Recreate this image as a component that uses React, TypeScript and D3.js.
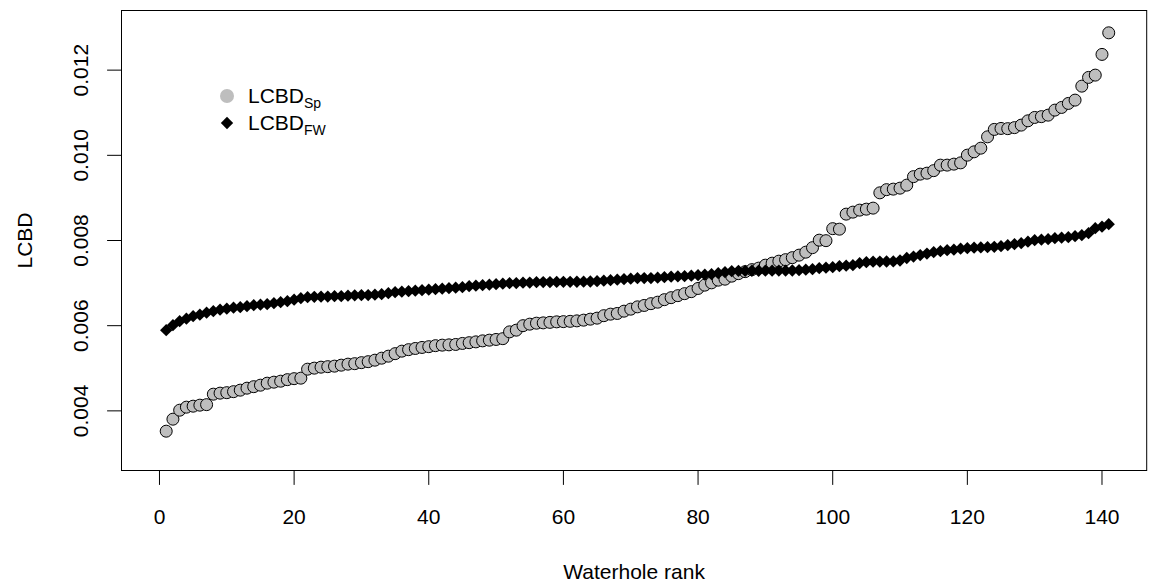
import React from "react";
import * as d3 from "d3";

const lcbdSp = [
  0.003523, 0.003805, 0.004016, 0.004087, 0.00411, 0.004134, 0.004146, 0.004392, 0.004416, 0.004427,
  0.004451, 0.004486, 0.004533, 0.004568, 0.004603, 0.00465, 0.004674, 0.004697, 0.004733, 0.004756,
  0.004768, 0.004979, 0.005003, 0.005026, 0.005038, 0.00505, 0.005073, 0.005097, 0.005108, 0.005132,
  0.005155, 0.00519, 0.005237, 0.005284, 0.005343, 0.005402, 0.005437, 0.005465, 0.005489, 0.005507,
  0.005531, 0.005543, 0.00555, 0.005559, 0.005583, 0.005601, 0.00562, 0.005644, 0.00566, 0.005677,
  0.005695, 0.005855, 0.005895, 0.006, 0.006036, 0.006059, 0.006066, 0.006078, 0.00609, 0.006095,
  0.006102, 0.006113, 0.00613, 0.006153, 0.006177, 0.006235, 0.006271, 0.006287, 0.006341, 0.006388,
  0.006442, 0.006475, 0.006517, 0.006552, 0.006611, 0.006658, 0.006705, 0.006752, 0.006799, 0.006874,
  0.006952, 0.007006, 0.007069, 0.007092, 0.007163, 0.007222, 0.007269, 0.007316, 0.007351, 0.007421,
  0.007468, 0.007515, 0.00755, 0.007597, 0.007656, 0.007726, 0.007832, 0.008008, 0.007996, 0.008278,
  0.008266, 0.008619, 0.008666, 0.008713, 0.008736, 0.00876, 0.009119, 0.009194, 0.009206, 0.009229,
  0.0093, 0.009499, 0.009558, 0.009581, 0.00964, 0.009769, 0.00977, 0.009793, 0.009823, 0.010004,
  0.010082, 0.010168, 0.010434, 0.010608, 0.010631, 0.010626, 0.01065, 0.010709, 0.01081, 0.010889,
  0.010908, 0.010943, 0.011061, 0.011124, 0.011218, 0.011296, 0.011624, 0.011829, 0.011883, 0.012369,
  0.012876,
];

const lcbdFw = [
  0.005895, 0.006012, 0.006106, 0.006165, 0.006224, 0.006259, 0.006306, 0.006341, 0.006376, 0.0064,
  0.006423, 0.006435, 0.006458, 0.006482, 0.006494, 0.006505, 0.006529, 0.006552, 0.006576, 0.006611,
  0.006646, 0.00667, 0.006677, 0.006682, 0.006684, 0.006693, 0.006694, 0.006705, 0.006712, 0.006717,
  0.006718, 0.006729, 0.00674, 0.006764, 0.006787, 0.006799, 0.006811, 0.006822, 0.006834, 0.006846,
  0.006858, 0.006869, 0.006881, 0.006893, 0.006905, 0.006928, 0.00694, 0.006952, 0.006963, 0.006975,
  0.006987, 0.006999, 0.007, 0.00701, 0.007011, 0.007022, 0.007023, 0.007024, 0.007027, 0.007029,
  0.00703, 0.007031, 0.007034, 0.007038, 0.007046, 0.007057, 0.007069, 0.007081, 0.007092, 0.007104,
  0.007116, 0.007117, 0.007118, 0.007128, 0.007139, 0.007151, 0.007156, 0.007163, 0.007175, 0.007186,
  0.007198, 0.00721, 0.007233, 0.007257, 0.00728, 0.007287, 0.007288, 0.007289, 0.00729, 0.007291,
  0.007292, 0.007293, 0.007294, 0.007296, 0.007304, 0.007316, 0.007327, 0.007351, 0.007363, 0.007374,
  0.007398, 0.007409, 0.007421, 0.007468, 0.007492, 0.007503, 0.007505, 0.007507, 0.007509, 0.00753,
  0.007589, 0.007622, 0.007658, 0.007693, 0.007726, 0.00775, 0.007773, 0.007785, 0.007809, 0.00782,
  0.007832, 0.007837, 0.007844, 0.007851, 0.007867, 0.007891, 0.007914, 0.007938, 0.007973, 0.008008,
  0.00802, 0.008032, 0.008055, 0.008067, 0.008079, 0.008102, 0.008126, 0.008173, 0.00829, 0.008325,
  0.008384,
];

const xTicks = [0, 20, 40, 60, 80, 100, 120, 140];
const yTicks = [0.004, 0.006, 0.008, 0.01, 0.012];
const yTickLabels = ["0.004", "0.006", "0.008", "0.010", "0.012"];
const xLimits = [0, 141];
const yLimits = [0.003, 0.013];
const xTitle = "Waterhole rank";
const yTitle = "LCBD";
const legendSeries = [
  { base: "LCBD", sub: "Sp", kind: "circle" },
  { base: "LCBD", sub: "FW", kind: "diamond" },
];

const W = 1149;
const H = 588;
const left = 121.5;
const right = 1146.7;
const top = 10.5;
const bottom = 470.5;
const FONT = "Arial, 'Liberation Sans', sans-serif";
const GREY = "#bebebe";

export default function App() {
  const xPad = (xLimits[1] - xLimits[0]) * 0.04;
  const yPad = (yLimits[1] - yLimits[0]) * 0.04;
  const x = d3.scaleLinear().domain([xLimits[0] - xPad, xLimits[1] + xPad]).range([left, right]);
  const y = d3.scaleLinear().domain([yLimits[0] - yPad, yLimits[1] + yPad]).range([bottom, top]);
  const diamond = d3.symbol(d3.symbolSquare, 76)() as string;
  const tick = 14.4;

  return (
    <svg
      width={W}
      height={H}
      style={{ position: "absolute", left: 0, top: 0, background: "#fff" }}
      fontFamily={FONT}
    >
      <rect x={0} y={0} width={W} height={H} fill="#fff" />
      <g>
        {lcbdSp.map((v, i) => (
          <circle key={"s" + i} cx={x(i + 1)} cy={y(v)} r={6} fill={GREY} stroke="#000" strokeWidth={1} />
        ))}
      </g>
      <g>
        {lcbdFw.map((v, i) => (
          <path
            key={"f" + i}
            d={diamond}
            transform={`translate(${x(i + 1)},${y(v)}) rotate(45)`}
            fill="#000"
          />
        ))}
      </g>
      <rect x={left} y={top} width={right - left} height={bottom - top} fill="none" stroke="#000" strokeWidth={1} />
      <g>
        {xTicks.map((t) => (
          <g key={"xt" + t}>
            <line x1={x(t)} x2={x(t)} y1={bottom} y2={bottom + tick} stroke="#000" />
            <text x={x(t)} y={524} textAnchor="middle" fontSize={21} fill="#000">
              {t}
            </text>
          </g>
        ))}
        <text x={(left + right) / 2} y={579} textAnchor="middle" fontSize={21} fill="#000">
          {xTitle}
        </text>
      </g>
      <g>
        {yTicks.map((t, i) => (
          <g key={"yt" + t}>
            <line x1={left - tick} x2={left} y1={y(t)} y2={y(t)} stroke="#000" />
            <text
              transform={`translate(88,${y(t)}) rotate(-90)`}
              textAnchor="middle"
              fontSize={21}
              fill="#000"
            >
              {yTickLabels[i]}
            </text>
          </g>
        ))}
        <text
          transform={`translate(32,${(top + bottom) / 2}) rotate(-90)`}
          textAnchor="middle"
          fontSize={21}
          fill="#000"
        >
          {yTitle}
        </text>
      </g>
      <g>
        {legendSeries.map((s, i) => {
          const ly = 96 + i * 27;
          return (
            <g key={"lg" + i}>
              {s.kind === "circle" ? (
                <circle cx={227} cy={ly} r={7} fill={GREY} />
              ) : (
                <path d={diamond} transform={`translate(227,${ly}) rotate(45)`} fill="#000" />
              )}
              <text x={248} y={ly + 7} fontSize={21} fill="#000">
                {s.base}
                <tspan fontSize={14} dy={5}>
                  {s.sub}
                </tspan>
              </text>
            </g>
          );
        })}
      </g>
    </svg>
  );
}
